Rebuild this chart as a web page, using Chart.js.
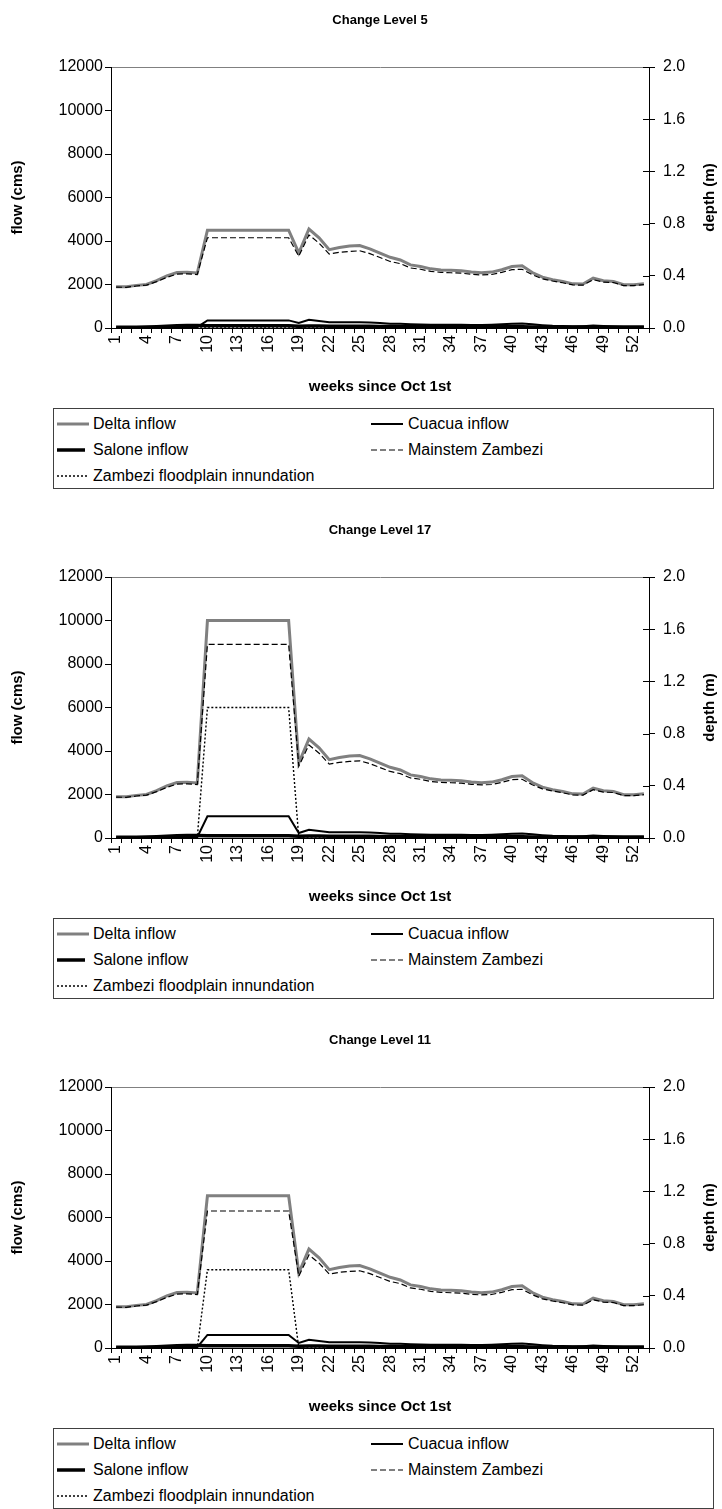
<!DOCTYPE html>
<html>
<head>
<meta charset="utf-8">
<script src="https://cdn.jsdelivr.net/npm/chart.js@4.4.1/dist/chart.umd.min.js"></script>
<style>
  body { margin: 0; background: #fff; font-family: "Liberation Sans", Arial, sans-serif; }
  .panel { position: absolute; left: 0; width: 722px; height: 510px; }
  .panel canvas { position: absolute; left: 0; top: 0; }
  .legend { position: absolute; left: 53px; top: 408px; width: 659px; height: 79px; border: 1px solid #404040; }
  .item { position: absolute; height: 20px; font-size: 16px; line-height: 20px; color: #000; white-space: nowrap; }
  .item svg { position: absolute; top: 6px; }
  .item span { position: absolute; top: 0; }
</style>
</head>
<body>
<div class="panel" style="top:0px"><canvas id="c5" width="722" height="400"></canvas><div class="legend" id="l5"></div></div>
<div class="panel" style="top:510px"><canvas id="c17" width="722" height="400"></canvas><div class="legend" id="l17"></div></div>
<div class="panel" style="top:1020px"><canvas id="c11" width="722" height="400"></canvas><div class="legend" id="l11"></div></div>
<script>
const weeks = [1,2,3,4,5,6,7,8,9,10,11,12,13,14,15,16,17,18,19,20,21,22,23,24,25,26,27,
  28,29,30,31,32,33,34,35,36,37,38,39,40,41,42,43,44,45,46,47,48,49,50,51,52,53];

// flow (cms)
const delta5 = [1900,1900,1960,2000,2180,2400,2550,2560,2530,
  4500,4500,4500,4500,4500,4500,4500,4500,4500,
  3450,4550,4150,3600,3700,3770,3790,3640,3440,3250,3130,2900,2830,2720,2670,2650,2630,2570,2540,
  2570,2680,2830,2860,2550,2340,2220,2140,2030,2020,2290,2170,2140,1990,1990,2030];
const delta17 = [1900,1900,1960,2000,2180,2400,2550,2560,2530,
  10000,10000,10000,10000,10000,10000,10000,10000,10000,
  3450,4550,4150,3600,3700,3770,3790,3640,3440,3250,3130,2900,2830,2720,2670,2650,2630,2570,2540,
  2570,2680,2830,2860,2550,2340,2220,2140,2030,2020,2290,2170,2140,1990,1990,2030];
const delta11 = [1900,1900,1960,2000,2180,2400,2550,2560,2530,
  7000,7000,7000,7000,7000,7000,7000,7000,7000,
  3450,4550,4150,3600,3700,3770,3790,3640,3440,3250,3130,2900,2830,2720,2670,2650,2630,2570,2540,
  2570,2680,2830,2860,2550,2340,2220,2140,2030,2020,2290,2170,2140,1990,1990,2030];

const mainstem5 = [1880,1870,1930,1970,2130,2330,2480,2490,2460,
  4150,4150,4150,4150,4150,4150,4150,4150,4150,
  3300,4280,3900,3400,3480,3520,3550,3420,3240,3060,2960,2760,2700,2600,2560,2540,2520,2470,2440,
  2460,2560,2680,2700,2450,2260,2160,2080,1980,1970,2220,2110,2090,1950,1950,1990];
const mainstem17 = [1880,1870,1930,1970,2130,2330,2480,2490,2460,
  8900,8900,8900,8900,8900,8900,8900,8900,8900,
  3300,4280,3900,3400,3480,3520,3550,3420,3240,3060,2960,2760,2700,2600,2560,2540,2520,2470,2440,
  2460,2560,2680,2700,2450,2260,2160,2080,1980,1970,2220,2110,2090,1950,1950,1990];
const mainstem11 = [1880,1870,1930,1970,2130,2330,2480,2490,2460,
  6300,6300,6300,6300,6300,6300,6300,6300,6300,
  3300,4280,3900,3400,3480,3520,3550,3420,3240,3060,2960,2760,2700,2600,2560,2540,2520,2470,2440,
  2460,2560,2680,2700,2450,2260,2160,2080,1980,1970,2220,2110,2090,1950,1950,1990];

const cuacua5 = [0,0,0,0,10,20,30,40,40,
  350,350,350,350,350,350,350,350,350,
  230,380,320,260,260,270,270,250,230,200,190,170,160,150,150,150,150,140,140,
  150,170,200,210,170,130,100,90,80,80,110,90,80,70,70,70];
const cuacua17 = [0,0,0,0,10,20,30,40,40,
  1000,1000,1000,1000,1000,1000,1000,1000,1000,
  230,380,320,260,260,270,270,250,230,200,190,170,160,150,150,150,150,140,140,
  150,170,200,210,170,130,100,90,80,80,110,90,80,70,70,70];
const cuacua11 = [0,0,0,0,10,20,30,40,40,
  600,600,600,600,600,600,600,600,600,
  230,380,320,260,260,270,270,250,230,200,190,170,160,150,150,150,150,140,140,
  150,170,200,210,170,130,100,90,80,80,110,90,80,70,70,70];

const salone = [40,40,40,50,60,80,100,110,110,
  100,100,100,100,100,100,100,100,100,
  80,90,90,80,80,80,80,80,70,70,70,60,60,60,60,60,60,60,60,
  60,70,70,60,50,50,40,40,40,50,40,40,40,40,40,40];

// depth (m)
const flood5 = [0,0,0,0,0,0,0,0,0,
  0,0,0,0,0,0,0,0,0,
  0,0,0,0,0,0,0,0,0,0,0,0,0,0,0,0,0,0,0,
  0,0,0,0,0,0,0,0,0,0,0,0,0,0,0,0];
const flood17 = [0,0,0,0,0,0,0,0,0,
  1.0,1.0,1.0,1.0,1.0,1.0,1.0,1.0,1.0,
  0,0,0,0,0,0,0,0,0,0,0,0,0,0,0,0,0,0,0,
  0,0,0,0,0,0,0,0,0,0,0,0,0,0,0,0];
const flood11 = [0,0,0,0,0,0,0,0,0,
  0.6,0.6,0.6,0.6,0.6,0.6,0.6,0.6,0.6,
  0,0,0,0,0,0,0,0,0,0,0,0,0,0,0,0,0,0,0,
  0,0,0,0,0,0,0,0,0,0,0,0,0,0,0,0];

const FONT = "'Liberation Sans', Arial, sans-serif";

// title centred over the plot, inner ticks on the right axis, bottom-to-top right title
const extras = {
  id: 'extras',
  afterDraw(chart) {
    const ctx = chart.ctx;
    const s = chart.scales.y1;
    const area = chart.chartArea;
    ctx.save();
    ctx.strokeStyle = '#000';
    ctx.lineWidth = 1;
    s.ticks.forEach(t => {
      const y = Math.round(s.getPixelForValue(t.value)) + 0.5;
      ctx.beginPath();
      ctx.moveTo(area.right - 6, y);
      ctx.lineTo(area.right, y);
      ctx.stroke();
    });
    ctx.fillStyle = '#000';
    ctx.textAlign = 'center';
    ctx.textBaseline = 'middle';
    ctx.font = "bold 13px " + FONT;
    ctx.fillText(chart.options.chartTitle, (area.left + area.right) / 2, 20);
    ctx.translate(710, (area.top + area.bottom) / 2);
    ctx.rotate(-Math.PI / 2);
    ctx.font = "bold 15px " + FONT;
    ctx.fillText('depth (m)', 0, 0);
    ctx.restore();
  }
};

function makeChart(id, title, delta, cuacua, mainstem, flood) {
  const ctx = document.getElementById('c' + id).getContext('2d');
  const chart = new Chart(ctx, {
    type: 'line',
    data: {
      labels: weeks,
      datasets: [
        { label: 'Delta inflow', data: delta, borderColor: '#808080', borderWidth: 3, order: 5 },
        { label: 'Cuacua inflow', data: cuacua, borderColor: '#000', borderWidth: 2, order: 4 },
        { label: 'Salone inflow', data: salone, borderColor: '#000', borderWidth: 3.5, order: 3 },
        { label: 'Mainstem Zambezi', data: mainstem, borderColor: '#000', borderWidth: 1.2, borderDash: [6, 3], order: 2 },
        { label: 'Zambezi floodplain innundation', data: flood, yAxisID: 'y1', borderColor: '#000', borderWidth: 1.4, borderDash: [2, 2], order: 1 }
      ]
    },
    options: {
      chartTitle: title,
      responsive: false,
      animation: false,
      devicePixelRatio: 1,
      layout: { padding: { top: 67, left: 0, right: 0, bottom: 0 } },
      elements: {
        point: { radius: 0 },
        line: { tension: 0, fill: false, borderCapStyle: 'butt' }
      },
      datasets: { line: { clip: 6 } },
      plugins: {
        legend: { display: false },
        tooltip: { enabled: false },
        title: { display: false }
      },
      scales: {
        x: {
          type: 'category',
          offset: true,
          grid: { offset: true, drawOnChartArea: false, drawTicks: true, tickLength: 5, color: '#000' },
          border: { color: '#000' },
          ticks: {
            autoSkip: false, minRotation: 90, maxRotation: 90, padding: 2, color: '#000',
            font: { family: FONT, size: 16 },
            callback: (v, i) => (i % 3 === 0 ? String(weeks[i]) : '')
          },
          title: {
            display: true, text: 'weeks since Oct 1st', color: '#000',
            font: { family: FONT, size: 15, weight: 'bold' },
            padding: { top: 0, bottom: 4 }
          },
          afterFit: s => { s.height = 72; }
        },
        y: {
          position: 'left',
          min: 0, max: 12000,
          ticks: {
            stepSize: 2000, padding: 2, color: '#000', font: { family: FONT, size: 16 },
            callback: v => String(v)
          },
          grid: {
            color: c => (c.tick && c.tick.value === 12000 ? '#808080' : 'rgba(0,0,0,0)'),
            tickColor: '#000', tickLength: 6, drawTicks: true
          },
          border: { color: '#000' },
          title: {
            display: true, text: 'flow (cms)', color: '#000',
            font: { family: FONT, size: 15, weight: 'bold' },
            padding: { top: 9, bottom: 0 }
          },
          afterFit: s => { s.width = 111; }
        },
        y1: {
          position: 'right',
          min: 0, max: 2,
          ticks: {
            stepSize: 0.4, padding: 8, color: '#000', font: { family: FONT, size: 16 },
            callback: v => Number(v).toFixed(1)
          },
          grid: { drawOnChartArea: false, tickLength: 6, color: '#000' },
          border: { color: '#000' },
          afterFit: s => { s.width = 73; }
        }
      }
    },
    plugins: [extras]
  });

  // legend box, built from the chart's datasets
  const box = document.getElementById('l' + id);
  const cols = [{ sx: 3, tx: 39 }, { sx: 317, tx: 354 }];
  const rowY = [5, 31, 57];
  chart.data.datasets.forEach((ds, i) => {
    const col = cols[i % 2];
    const row = rowY[Math.floor(i / 2)];
    const dash = ds.borderDash ? ds.borderDash.join(',') : 'none';
    const x2 = ds.label === 'Salone inflow' ? 28 : 32;
    const item = document.createElement('div');
    item.className = 'item';
    item.style.left = '0px';
    item.style.top = row + 'px';
    item.innerHTML =
      '<svg width="34" height="8" style="left:' + col.sx + 'px">' +
      '<line x1="0" y1="4" x2="' + x2 + '" y2="4" stroke="' + ds.borderColor + '" stroke-width="' + ds.borderWidth +
      '" stroke-dasharray="' + dash + '"/></svg>' +
      '<span style="left:' + col.tx + 'px">' + ds.label + '</span>';
    box.appendChild(item);
  });
  return chart;
}

makeChart('5', 'Change Level 5', delta5, cuacua5, mainstem5, flood5);
makeChart('17', 'Change Level 17', delta17, cuacua17, mainstem17, flood17);
makeChart('11', 'Change Level 11', delta11, cuacua11, mainstem11, flood11);
</script>
</body>
</html>
